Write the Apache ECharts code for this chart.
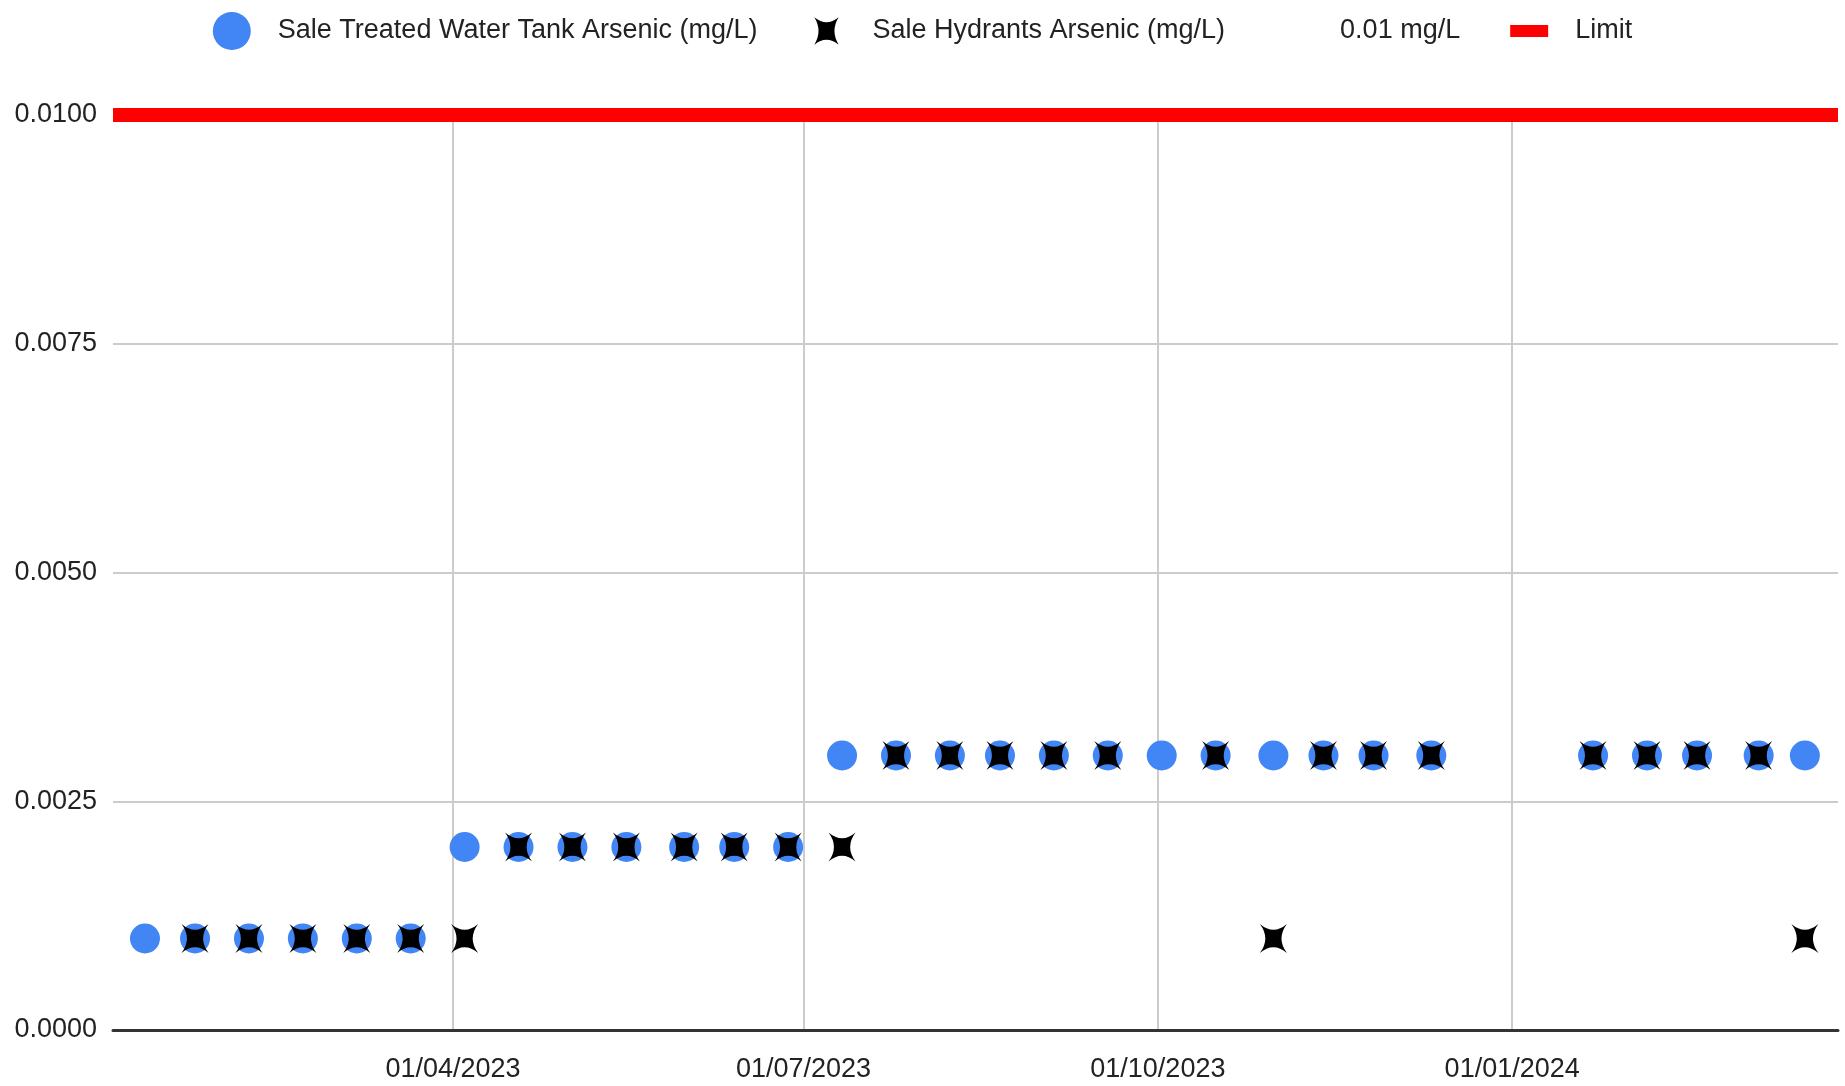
<!DOCTYPE html>
<html>
<head>
<meta charset="utf-8">
<script src="https://cdn.jsdelivr.net/npm/echarts@6/dist/echarts.min.js"></script>
<style>
html,body{margin:0;padding:0;background:#fff;}
#chart{width:1845px;height:1086px;}
</style>
</head>
<body>
<div id="chart"></div>
<script>
// ---- data ----
var sampleDates = ['2023-01-11','2023-01-24','2023-02-07','2023-02-21','2023-03-07','2023-03-21',
  '2023-04-04','2023-04-18','2023-05-02','2023-05-16','2023-05-31','2023-06-13','2023-06-27',
  '2023-07-11','2023-07-25','2023-08-08','2023-08-21','2023-09-04','2023-09-18','2023-10-02',
  '2023-10-16','2023-10-31','2023-11-13','2023-11-26','2023-12-11',
  '2024-01-22','2024-02-05','2024-02-18','2024-03-05','2024-03-17'];
var tankArsenic = [0.001,0.001,0.001,0.001,0.001,0.001,
  0.002,0.002,0.002,0.002,0.002,0.002,0.002,
  0.003,0.003,0.003,0.003,0.003,0.003,0.003,
  0.003,0.003,0.003,0.003,0.003,
  0.003,0.003,0.003,0.003,0.003];
var hydrantArsenic = [null,0.001,0.001,0.001,0.001,0.001,
  0.001,0.002,0.002,0.002,0.002,0.002,0.002,
  0.002,0.003,0.003,0.003,0.003,0.003,null,
  0.003,0.001,0.003,0.003,0.003,
  0.003,0.003,0.003,0.003,0.001];
var limitValue = 0.01;
var xTickDates = ['2023-04-01','2023-07-01','2023-10-01','2024-01-01'];
var yTicks = [0, 0.0025, 0.005, 0.0075, 0.01];
var seriesNames = ['Sale Treated Water Tank Arsenic (mg/L)','Sale Hydrants Arsenic (mg/L)','0.01 mg/L','Limit'];

// ---- build ----
function ts(s){ return new Date(s + 'T00:00:00Z').getTime(); }
var xMin = ts('2023-01-03') - 0.3*86400000;
var xMax = ts('2024-03-25') + 0.6*86400000;
function pairs(vals){
  var out = [];
  for (var i = 0; i < sampleDates.length; i++) {
    if (vals[i] != null) out.push([ts(sampleDates[i]), vals[i]]);
  }
  return out;
}
var tickTs = xTickDates.map(ts);
function pad(n){ return (n < 10 ? '0' : '') + n; }
function fmtDate(v){
  var d = new Date(v);
  return pad(d.getUTCDate()) + '/' + pad(d.getUTCMonth()+1) + '/' + d.getUTCFullYear();
}
var FONT = "'Liberation Sans', Arial, sans-serif";
var FS = 27;
var starPath = 'path://M0,0Q50,40 100,0Q60,50 100,100Q50,60 0,100Q40,50 0,0Z';
var starLegend = 'path://M0,0M100,100M18,14Q50,40 82,14Q60,50 82,86Q50,60 18,86Q40,50 18,14Z';
var limitLegend = 'path://M0,0M100,100M0,34L100,34L100,66L0,66Z';

var chart = echarts.init(document.getElementById('chart'), null, {renderer: 'canvas'});
chart.setOption({
  animation: false,
  backgroundColor: '#ffffff',
  textStyle: {fontFamily: FONT},
  legend: {
    top: 7,
    left: 'center',
    itemWidth: 38,
    itemHeight: 38,
    itemGap: 50,
    textStyle: {fontFamily: FONT, fontSize: FS, color: '#222', padding: [0,0,0,22]},
    data: [
      {name: seriesNames[0], icon: 'circle', itemStyle: {color: '#4285F4'}},
      {name: seriesNames[1], icon: starLegend, itemStyle: {color: '#000'}},
      {name: seriesNames[2], icon: 'rect', itemStyle: {opacity: 0}},
      {name: seriesNames[3], icon: limitLegend, itemStyle: {color: '#ff0000'}}
    ]
  },
  grid: {left: 113, right: 7, top: 115, bottom: 56, containLabel: false},
  xAxis: {
    type: 'value',
    min: xMin,
    max: xMax,
    axisLine: {show: true, onZero: false, lineStyle: {color: '#333', width: 3}},
    axisTick: {show: false, customValues: tickTs},
    splitLine: {show: true, lineStyle: {color: '#cccccc', width: 2}},
    axisLabel: {
      customValues: tickTs,
      formatter: function(v){ return fmtDate(v); },
      fontFamily: FONT, fontSize: FS, color: '#222', margin: 26
    }
  },
  yAxis: {
    type: 'value',
    min: yTicks[0],
    max: yTicks[yTicks.length-1],
    interval: yTicks[1] - yTicks[0],
    axisLine: {show: false},
    axisTick: {show: false},
    splitLine: {show: true, lineStyle: {color: '#cccccc', width: 2}},
    axisLabel: {
      formatter: function(v){ return v.toFixed(4); },
      fontFamily: FONT, fontSize: FS, color: '#222', margin: 16
    }
  },
  series: [
    {
      name: seriesNames[0], type: 'scatter', data: pairs(tankArsenic),
      symbol: 'circle', symbolSize: 30, itemStyle: {color: '#4285F4', opacity: 1}, z: 3
    },
    {
      name: seriesNames[1], type: 'scatter', data: pairs(hydrantArsenic),
      symbol: starPath, symbolSize: [27, 29], itemStyle: {color: '#000', opacity: 1}, z: 4
    },
    {
      name: seriesNames[2], type: 'line', data: [], itemStyle: {color: 'rgba(0,0,0,0)'}
    },
    {
      name: seriesNames[3], type: 'line', data: [[xMin, limitValue],[xMax, limitValue]],
      showSymbol: false, symbol: 'none', lineStyle: {color: '#ff0000', width: 14}, itemStyle: {color: '#ff0000'}, z: 2
    }
  ]
});
</script>
</body>
</html>
